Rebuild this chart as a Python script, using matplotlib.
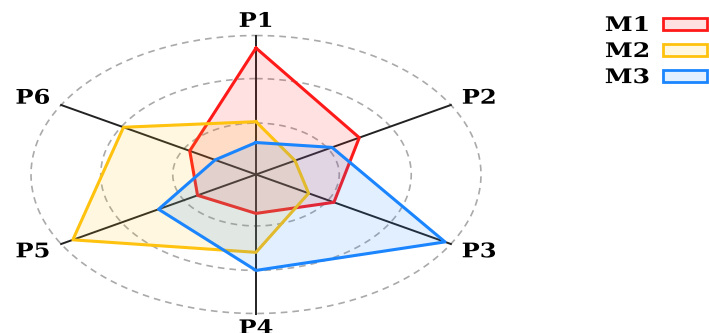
import numpy as np
import matplotlib.pyplot as plt
from matplotlib.colors import to_rgb
from matplotlib.patches import Patch
from matplotlib.patheffects import AbstractPathEffect
from matplotlib.transforms import Affine2D

# Radar chart data
categories = ['P1', 'P2', 'P3', 'P4', 'P5', 'P6']
m1 = [0.91, 0.53, 0.40, 0.28, 0.30, 0.34]
m2 = [0.38, 0.20, 0.27, 0.56, 0.94, 0.68]
m3 = [0.23, 0.39, 0.97, 0.69, 0.50, 0.21]
series_names = ['M1', 'M2', 'M3']
colors = ['#ff1a1a', '#ffc20e', '#1a85ff']
rings = [0.37, 0.69, 1.0]


class Widen(AbstractPathEffect):
    """Stretch glyphs horizontally about the text's centre."""
    def __init__(self, sx):
        super().__init__()
        self.sx = sx

    def draw_path(self, renderer, gc, tpath, affine, rgbFace=None):
        ext = tpath.get_extents()
        cx = (ext.x0 + ext.x1) / 2
        t = Affine2D().translate(-cx, 0).scale(self.sx, 1).translate(cx, 0) + affine
        renderer.draw_path(gc, tpath, t, rgbFace)


n = len(categories)
angles = np.arange(n) * 2 * np.pi / n

fig = plt.figure(figsize=(7.09, 3.33), dpi=100)
ax = fig.add_axes([31 / 709, 19.5 / 333, 450 / 709, 278 / 333], projection='polar')
ax.set_aspect('auto')
ax.set_theta_offset(np.pi / 2)
ax.set_theta_direction(-1)
ax.set_ylim(0, 1)
ax.set_xticks([])
ax.set_yticks([])
ax.grid(False)
ax.spines['polar'].set_visible(False)

# dashed rings
t = np.linspace(0, 2 * np.pi, 400)
for r in rings:
    ax.plot(t, np.full_like(t, r), color='#aaaaaa', lw=1.2, ls=(0, (4, 3)),
            zorder=0, clip_on=False)

# spokes
for a in angles:
    ax.plot([a, a], [0, 1], color='#222222', lw=1.4, zorder=1, clip_on=False)

# series
for i, (vals, c) in enumerate(zip([m1, m2, m3], colors)):
    th = np.append(angles, angles[0])
    rv = np.append(vals, vals[0])
    ax.plot(th, rv, color=c, lw=2.2, zorder=2 + i * 2)
    ax.fill(th, rv, color=c, alpha=0.13, lw=0, zorder=3 + i * 2)

# axis labels
for a, lab in zip(angles, categories):
    x = 0.5 + 0.5 * 1.145 * np.sin(a)
    y = 0.5 + 0.5 * 1.105 * np.cos(a)
    ax.text(x, y, lab, transform=ax.transAxes, ha='center', va='center',
            fontsize=14.5, fontweight='bold', family='DejaVu Serif',
            clip_on=False, path_effects=[Widen(1.2)])

handles = [Patch(facecolor=(*to_rgb(c), 0.13), edgecolor=c, lw=2) for c in colors]
leg = fig.legend(handles, series_names, loc='upper right',
                 bbox_to_anchor=(707 / 709, 1 - 15 / 333),
                 frameon=False, markerfirst=False, handlelength=2.2,
                 handleheight=0.5, handletextpad=0.85, labelspacing=0.3,
                 borderaxespad=0, borderpad=0,
                 prop={'family': 'DejaVu Serif', 'weight': 'bold', 'size': 14.5})
for txt in leg.get_texts():
    txt.set_path_effects([Widen(1.25)])

fig.savefig('out.png', dpi=100)
